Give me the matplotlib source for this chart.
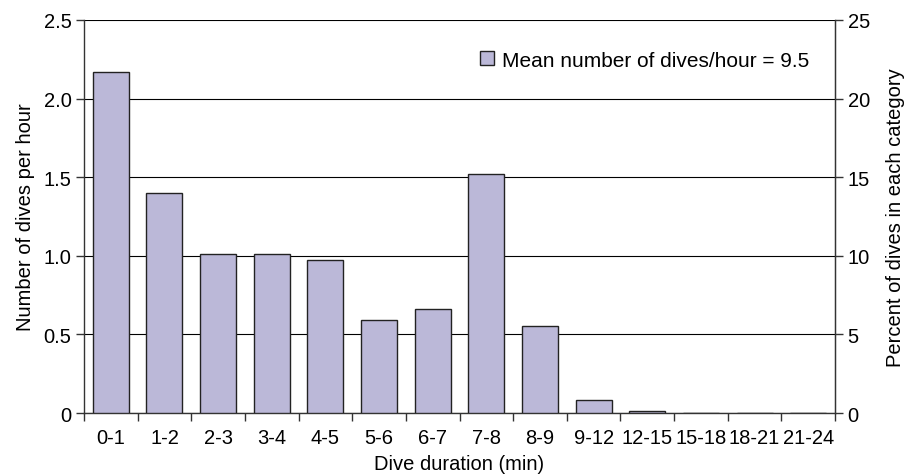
import matplotlib
matplotlib.use('Agg')
import matplotlib.pyplot as plt
import numpy as np
from matplotlib.lines import Line2D

plt.rcParams['font.family'] = ['Liberation Sans', 'DejaVu Sans']
plt.rcParams['font.size'] = 14.5

categories = ['0-1', '1-2', '2-3', '3-4', '4-5', '5-6', '6-7', '7-8', '8-9',
              '9-12', '12-15', '15-18', '18-21', '21-24']
dives_per_hour = [2.17, 1.40, 1.01, 1.01, 0.975, 0.59, 0.66, 1.52, 0.553,
                  0.085, 0.013, 0.0, 0.0, 0.0]
left_ticks = [0, 0.5, 1.0, 1.5, 2.0, 2.5]
left_labels = ['0', '0.5', '1.0', '1.5', '2.0', '2.5']
right_ticks = [0, 5, 10, 15, 20, 25]

BAR = '#BBB8D8'
EDGE = '#222222'

fig = plt.figure(figsize=(9.13, 4.77), dpi=100)
ax = fig.add_axes([0.092, 0.132, 0.8226, 0.824])

x = np.arange(len(categories))
ax.bar(x, dives_per_hour, width=0.67, color=BAR, edgecolor=EDGE, linewidth=1.0, zorder=3)

ax.set_xlim(-0.5, len(categories) - 0.5)
ax.set_ylim(0, 2.5)
ax.set_yticks(left_ticks)
ax.set_yticklabels(left_labels)
ax.yaxis.grid(True, color='black', linewidth=0.8, zorder=0)
ax.set_axisbelow(True)

# category boundary ticks, labels in the middle
ax.set_xticks(np.arange(len(categories) + 1) - 0.5)
ax.set_xticklabels([])
ax.set_xticks(x, minor=True)
ax.set_xticklabels(categories, minor=True)
ax.tick_params(axis='x', which='minor', length=0, pad=11)
ax.tick_params(axis='x', which='major', length=6, direction='out', width=1, color='#333333')
ax.tick_params(axis='y', length=6, direction='out', width=1, color='#333333', pad=3)

ax.spines['top'].set_visible(False)
for s in ['left', 'right', 'bottom']:
    ax.spines[s].set_color('#333333')
    ax.spines[s].set_linewidth(1.0)

ax2 = ax.twinx()
ax2.set_ylim(0, 25)
ax2.set_yticks(right_ticks)
ax2.tick_params(axis='y', length=6, direction='out', width=1, color='#333333', pad=3)
for s in ['top', 'left', 'bottom']:
    ax2.spines[s].set_visible(False)
ax2.spines['right'].set_color('#333333')

ax.set_xlabel('Dive duration (min)', labelpad=5)
ax.set_ylabel('Number of dives per hour', labelpad=6)
ax2.set_ylabel('Percent of dives in each category', labelpad=12)

handle = Line2D([], [], marker='s', linestyle='none', markersize=10,
                markerfacecolor=BAR, markeredgecolor=EDGE, markeredgewidth=1.0)
ax.legend([handle], ['Mean number of dives/hour = 9.5'], loc='upper right',
          bbox_to_anchor=(0.99, 0.97), frameon=False, handletextpad=0.3,
          handlelength=0.8, fontsize=15)

fig.savefig('out.png', dpi=100, facecolor='white')
